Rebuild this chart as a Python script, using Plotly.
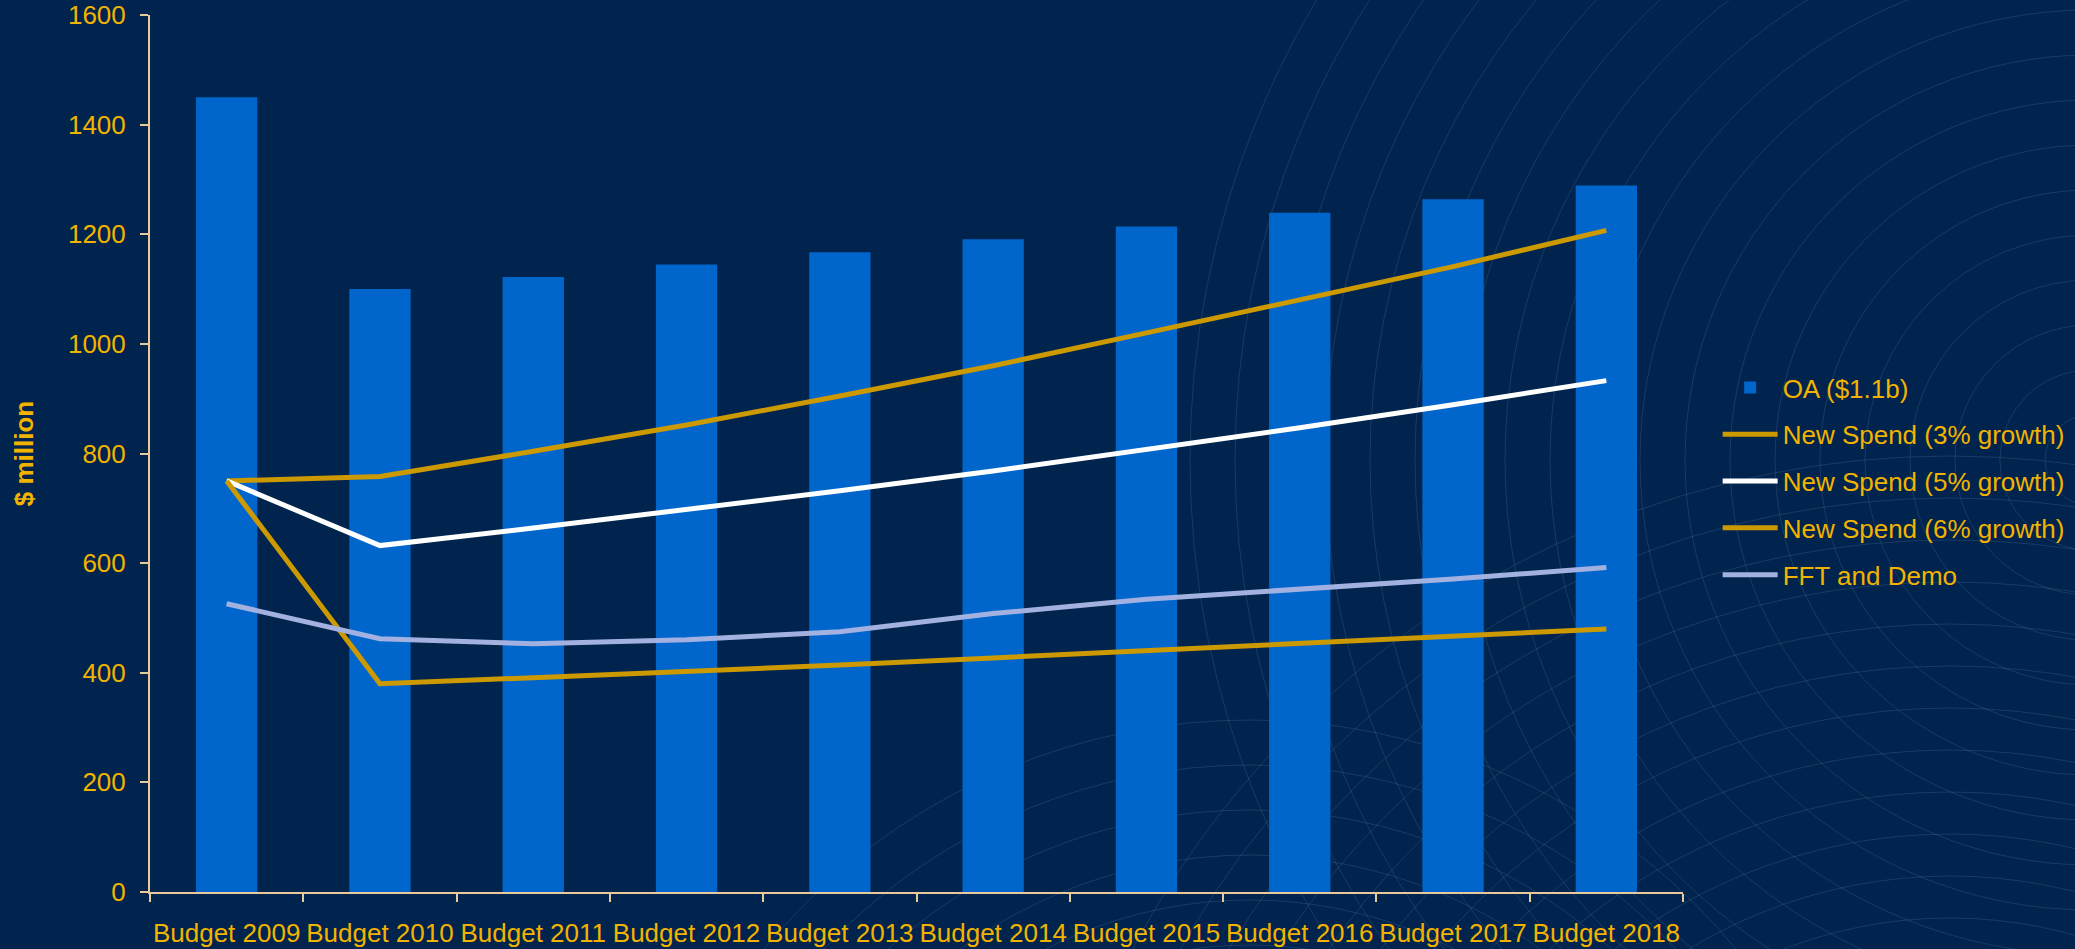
import plotly.graph_objects as go

categories = ["Budget 2009", "Budget 2010", "Budget 2011", "Budget 2012", "Budget 2013",
              "Budget 2014", "Budget 2015", "Budget 2016", "Budget 2017", "Budget 2018"]
oa = [1450, 1100, 1122, 1145, 1167, 1191, 1214, 1239, 1264, 1289]
spend_3 = [750, 380, 391, 402, 414, 427, 440, 453, 466, 480]
spend_5 = [750, 632, 664, 697, 732, 768, 807, 847, 889, 933]
spend_6 = [750, 758, 804, 852, 905, 960, 1020, 1080, 1141, 1207]
fft_demo = [526, 462, 453, 460, 475, 508, 534, 552, 571, 592]
y_ticks = [0, 200, 400, 600, 800, 1000, 1200, 1400, 1600]

BG = "#00244D"
GOLD_TXT = "#F2B300"
GOLD_LINE = "#CC9900"
BAR = "#0066CC"
LAV = "#A3B1E0"
AXIS = "#E8C99C"
FONT = "Arial, Liberation Sans, sans-serif"

W, H = 2075, 949
ML, MR, MT, MB = 150, 392, 15, 57
PW = W - ML - MR
PH = H - MT - MB

fig = go.Figure()
fig.add_trace(go.Bar(x=categories, y=oa, name="OA ($1.1b)", marker_color=BAR,
                     marker_line_width=0, width=0.4, legendgroup="a"))
fig.add_trace(go.Scatter(x=categories, y=spend_6, name="New Spend (3% growth)", mode="lines",
                         line=dict(color=GOLD_LINE, width=5), legendgroup="b"))
fig.add_trace(go.Scatter(x=categories, y=spend_5, name="New Spend (5% growth)", mode="lines",
                         line=dict(color="#FFFFFF", width=5), legendgroup="c"))
fig.add_trace(go.Scatter(x=categories, y=spend_3, name="New Spend (6% growth)", mode="lines",
                         line=dict(color=GOLD_LINE, width=5), legendgroup="d"))
fig.add_trace(go.Scatter(x=categories, y=fft_demo, name="FFT and Demo", mode="lines",
                         line=dict(color=LAV, width=5), legendgroup="e"))

# decorative concentric arcs in the background
def px2paper(px, py):
    return (px - ML) / PW, (H - MB - py) / PH

shapes = []
for cx, cy, step, n in [(2090, 460, 45, 20), (1950, 1380, 42, 22), (1250, 1350, 45, 14)]:
    for k in range(1, n + 1):
        r = step * k
        x0, y1 = px2paper(cx - r, cy - r)
        x1, y0 = px2paper(cx + r, cy + r)
        shapes.append(dict(type="circle", xref="paper", yref="paper", x0=x0, x1=x1, y0=y0, y1=y1,
                           line=dict(color="rgba(110,140,180,0.22)", width=1), layer="below"))

fig.update_layout(
    width=W, height=H,
    margin=dict(l=ML, r=MR, t=MT, b=MB, autoexpand=False),
    paper_bgcolor=BG, plot_bgcolor="rgba(0,0,0,0)",
    font=dict(family=FONT, size=26, color=GOLD_TXT),
    showlegend=True,
    legend=dict(x=1.0226, xanchor="left", y=0.468, yanchor="middle",
                font=dict(size=26, color=GOLD_TXT), bgcolor="rgba(0,0,0,0)",
                traceorder="grouped", tracegroupgap=10, itemwidth=55),
    bargap=0.6,
    shapes=shapes,
    xaxis=dict(type="category", showline=True, linecolor=AXIS, linewidth=2,
               ticks="outside", tickson="boundaries", ticklen=8, tickwidth=2, tickcolor=AXIS,
               tickfont=dict(size=26, color=GOLD_TXT), showgrid=False, zeroline=False,
               tickangle=0, automargin=False, ticklabelstandoff=17),
    yaxis=dict(range=[0, 1600], tickvals=y_ticks, showline=True, linecolor=AXIS, linewidth=2,
               ticks="outside", ticklen=8, tickwidth=2, tickcolor=AXIS,
               tickfont=dict(size=26, color=GOLD_TXT), showgrid=False, zeroline=False,
               ticklabelstandoff=9, automargin=False,
               title=dict(text="<b>$ million</b>", font=dict(size=26, color=GOLD_TXT), standoff=27)),
)

fig.write_html("out.html")
